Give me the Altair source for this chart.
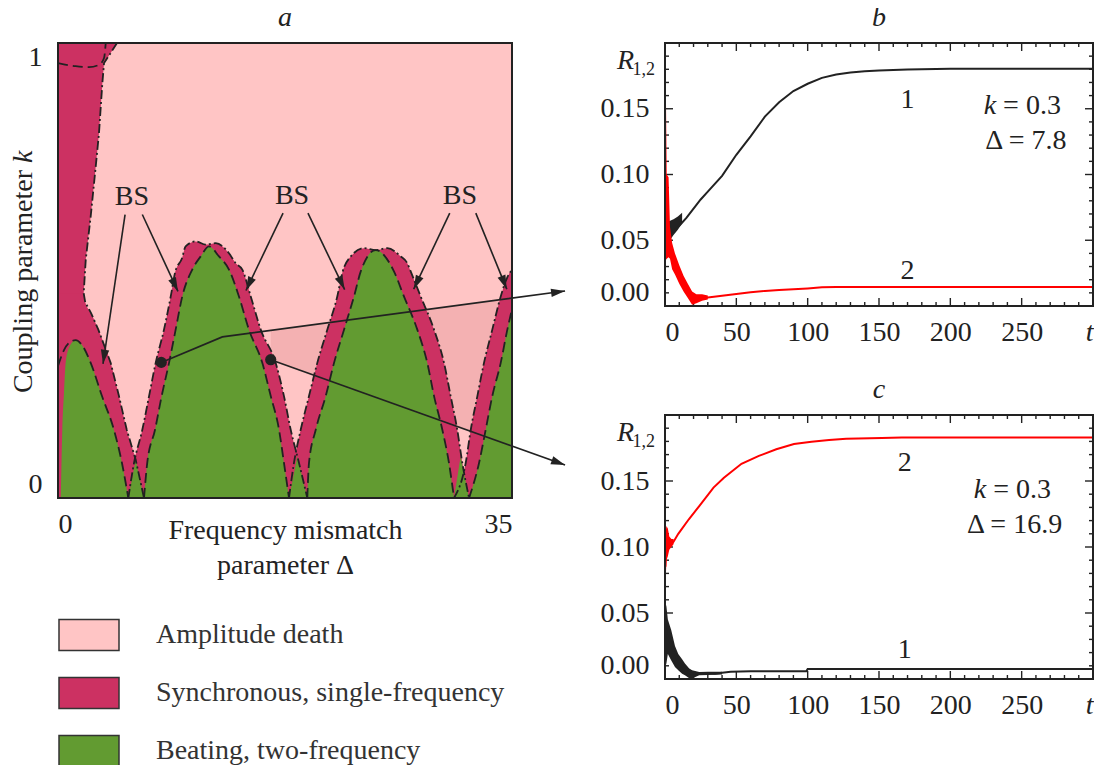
import math
import altair as alt
import pandas as pd

FONT = "Liberation Serif"
INK = "#222222"
GREY = "#333333"
PINK = "#FFC5C5"
WEDGE = "#F4B1B2"
CRIMSON = "#CC3162"
GREEN = "#629B31"
RED = "#FF0000"
FS = 28

# ======================= panel a : regime diagram =======================
A_W, A_H = 454, 455
A_DMAX = 35.0

regimes = ["Amplitude death", "Synchronous, single-frequency", "Beating, two-frequency"]
regime_colors = [PINK, CRIMSON, GREEN]

# synchronous strip along the left edge: right boundary Delta(k), from top to bottom
left_k = [1.0, 0.978, 0.956, 0.912, 0.802, 0.729, 0.619, 0.524, 0.45, 0.43, 0.407, 0.370, 0.297, 0.224, 0.150, 0.084, 0.0]
left_d = [4.55, 4.06, 3.55, 3.42, 3.16, 2.91, 2.52, 2.14, 1.98, 2.10, 2.54, 3.11, 4.06, 4.70, 5.30, 5.99, 6.63]

# dashed curve in the upper-left corner
topleft_d = [0.0, 1.36, 2.39, 3.16, 3.55, 3.68]
topleft_k = [0.956, 0.949, 0.947, 0.952, 0.967, 1.0]

# beating tongue A (left)
lobeA_in_d = [0.21, 0.27, 0.33, 0.46, 0.59, 0.85, 1.36, 1.85, 2.52, 3.39, 4.32, 4.93, 5.42]
lobeA_in_k = [0.0, 0.077, 0.150, 0.231, 0.297, 0.330, 0.347, 0.336, 0.297, 0.224, 0.149, 0.077, 0.0]
lobeA_top_d = [0.0, 0.46, 0.85, 1.36, 1.85, 2.52, 3.39, 4.32, 4.93, 5.42]
lobeA_top_k = [0.290, 0.325, 0.341, 0.347, 0.336, 0.297, 0.224, 0.149, 0.077, 0.0]

# tongue B
lobeB_out_d = [5.42, 5.86, 6.50, 7.02, 7.53, 8.17, 8.69, 9.02, 9.56, 9.84, 10.62, 11.39, 12.16, 13.18, 13.70, 14.21, 14.86, 15.63, 16.78, 17.42, 17.94, 18.58, 19.22]
lobeB_out_k = [0.0, 0.077, 0.150, 0.224, 0.297, 0.370, 0.443, 0.495, 0.527, 0.553, 0.564, 0.557, 0.560, 0.538, 0.516, 0.502, 0.443, 0.370, 0.297, 0.224, 0.150, 0.077, 0.0]
lobeB_in_d = [6.63, 6.88, 7.48, 7.99, 8.56, 9.07, 9.58, 10.35, 11.00, 11.64, 12.41, 13.18, 13.95, 14.72, 15.75, 16.40, 17.04, 17.42, 17.81]
lobeB_in_k = [0.0, 0.077, 0.150, 0.224, 0.297, 0.370, 0.443, 0.502, 0.531, 0.553, 0.531, 0.502, 0.443, 0.370, 0.297, 0.224, 0.150, 0.077, 0.0]

# tongue C
lobeC_out_d = [17.81, 18.19, 18.71, 19.35, 19.99, 20.76, 21.53, 21.92, 22.57, 23.59, 24.49, 25.39, 26.42, 26.93, 27.19, 27.96, 28.99, 29.76, 30.27, 30.78, 31.17, 31.69]
lobeC_out_k = [0.0, 0.077, 0.150, 0.224, 0.297, 0.370, 0.443, 0.495, 0.531, 0.549, 0.545, 0.549, 0.531, 0.516, 0.498, 0.443, 0.370, 0.297, 0.224, 0.150, 0.077, 0.0]
lobeC_in_d = [19.22, 19.35, 19.87, 20.64, 21.28, 22.05, 22.82, 23.34, 24.49, 25.90, 26.67, 27.70, 28.47, 28.99, 29.63, 30.14, 30.53]
lobeC_in_k = [0.0, 0.077, 0.150, 0.224, 0.297, 0.370, 0.443, 0.498, 0.545, 0.498, 0.443, 0.370, 0.297, 0.224, 0.150, 0.077, 0.0]

# tongue D (cut by the right edge)
lobeD_out_d = [30.53, 31.43, 31.82, 32.33, 32.84, 33.48, 34.13, 34.62, 35.0]
lobeD_out_k = [0.0, 0.077, 0.150, 0.224, 0.297, 0.370, 0.443, 0.484, 0.502]
lobeD_in_d = [31.69, 32.46, 32.97, 33.48, 34.13, 34.64, 35.0]
lobeD_in_k = [0.0, 0.077, 0.150, 0.224, 0.297, 0.370, 0.415]

# beating wedges where neighbouring synchronous bands cross
triAB_d, triAB_k = [5.42, 5.99, 6.63], [0.0, 0.084, 0.0]
triBC_d, triBC_k = [17.81, 18.45, 19.22], [0.0, 0.092, 0.0]
triCD_d, triCD_k = [30.53, 31.04, 31.69], [0.0, 0.092, 0.0]

# darker wedge between the two pointer arrows
wedge_d = [16.40, 35.0]
wedge_hi = [0.368, 0.439]
wedge_lo = [0.304, 0.114]

# "BS" labels and their arrows
bs_text = ["BS", "BS", "BS"]
bs_text_d = [5.70, 18.04, 30.99]
bs_text_k = [0.662, 0.663, 0.663]
bs_start_d = [5.17, 6.50, 17.35, 19.27, 30.20, 32.21]
bs_start_k = [0.623, 0.623, 0.626, 0.626, 0.626, 0.626]
bs_tip_d = [3.47, 9.25, 14.49, 22.10, 27.42, 34.60]
bs_tip_k = [0.295, 0.454, 0.456, 0.458, 0.459, 0.459]

# pointers from the two marked points to panels b and c
link_b_d = [7.96, 12.67, 39.09]
link_b_k = [0.298, 0.354, 0.455]
link_c_d = [16.40, 39.09]
link_c_k = [0.304, 0.0725]

# y title of panel a
ytitle_d = -2.62
ytitle_k_main = 0.721
ytitle_k_var = 0.736

PX_D = A_W / A_DMAX
PX_K = A_H / 1.0


def head_angle(d0, k0, d1, k1):
    return math.degrees(math.atan2((d1 - d0) * PX_D, (k1 - k0) * PX_K)) % 360


def shape_df(name, regime, d, k, style="dash"):
    n = len(d)
    return pd.DataFrame({"shape": [name] * n, "regime": [regime] * n, "d": d, "k": k,
                         "i": list(range(n)), "style": [style] * n})


xsA = alt.Scale(domain=[0, A_DMAX], nice=False, zero=False)
ysA = alt.Scale(domain=[0, 1], nice=False, zero=False)
axA_x = alt.Axis(values=[0, 35], format="d", labelFlush=True, labelPadding=12, ticks=False, domain=False,
                 grid=False, labelFont=FONT, labelFontSize=FS, labelColor=INK, labelOverlap=False,
                 title=["Frequency mismatch", "parameter Δ"], titleFont=FONT, titleFontSize=FS,
                 titleFontWeight="normal", titleColor=INK, titlePadding=-22, titleLineHeight=35)
axA_y = alt.Axis(values=[0, 1], format="d", labelFlush=True, labelPadding=16, ticks=False, domain=False,
                 grid=False, labelFont=FONT, labelFontSize=FS, labelColor=INK, labelOverlap=False, title=None)


def XA(field=None, datum=None, **kw):
    if datum is not None:
        return alt.X(datum=datum, scale=xsA, axis=axA_x, **kw)
    return alt.X(field, type="quantitative", scale=xsA, axis=axA_x, **kw)


def YA(field=None, datum=None, **kw):
    if datum is not None:
        return alt.Y(datum=datum, scale=ysA, axis=axA_y, **kw)
    return alt.Y(field, type="quantitative", scale=ysA, axis=axA_y, **kw)


COLOR = alt.Color("regime:N", scale=alt.Scale(domain=regimes, range=regime_colors),
                  legend=alt.Legend(title=None, orient="none", legendX=0, legendY=561, direction="vertical",
                                    symbolType="M-1,-0.52H1V0.52H-1Z", symbolSize=3600,
                                    symbolStrokeColor=GREY, symbolStrokeWidth=1.5, symbolOpacity=1,
                                    labelFont=FONT, labelFontSize=FS, labelColor=GREY, labelOffset=36,
                                    labelLimit=1000, rowPadding=8))

# split the left strip boundary at its narrowest point into an upper and a lower branch
imin = left_d.index(min(left_d))
up_d = [0.0, left_d[imin] - 0.08] + left_d[imin::-1]
up_k = [left_k[imin] - 0.05, left_k[imin] - 0.05] + left_k[imin::-1]
lo_d = [0.0] + left_d[imin:]
lo_k = [left_k[imin]] + left_k[imin:]

wedge_df = pd.DataFrame({"d": wedge_d, "hi": wedge_hi, "lo": wedge_lo})
left_line_df = shape_df("L", regimes[1], left_d, left_k, "dashdot")
left_up_df = shape_df("Lu", regimes[1], up_d, up_k)
left_lo_df = shape_df("Ll", regimes[1], lo_d, lo_k)
crimson_df = pd.concat([left_lo_df,
                        shape_df("B", regimes[1], lobeB_out_d, lobeB_out_k, "dashdot"),
                        shape_df("C", regimes[1], lobeC_out_d, lobeC_out_k, "dashdot"),
                        shape_df("D", regimes[1], lobeD_out_d, lobeD_out_k, "dashdot")])
green_df = pd.concat([shape_df("Ai", regimes[2], lobeA_in_d, lobeA_in_k),
                      shape_df("Bi", regimes[2], lobeB_in_d, lobeB_in_k),
                      shape_df("Ci", regimes[2], lobeC_in_d, lobeC_in_k),
                      shape_df("Di", regimes[2], lobeD_in_d, lobeD_in_k)])
tri_df = pd.concat([shape_df("t1", regimes[2], triAB_d, triAB_k),
                    shape_df("t2", regimes[2], triBC_d, triBC_k),
                    shape_df("t3", regimes[2], triCD_d, triCD_k)])
curve_df = pd.concat([shape_df("Atop", "", lobeA_top_d, lobeA_top_k, "dash"),
                      shape_df("TL", "", topleft_d, topleft_k, "dash"),
                      shape_df("Bo", "", lobeB_out_d, lobeB_out_k, "dashdot"),
                      shape_df("Bi", "", lobeB_in_d, lobeB_in_k, "dash"),
                      shape_df("Co", "", lobeC_out_d, lobeC_out_k, "dashdot"),
                      shape_df("Ci", "", lobeC_in_d, lobeC_in_k, "dash"),
                      shape_df("Do", "", lobeD_out_d, lobeD_out_k, "dashdot"),
                      shape_df("Di", "", lobeD_in_d, lobeD_in_k, "dash")])
DASH = alt.StrokeDash("style:N", scale=alt.Scale(domain=["dash", "dashdot"], range=[[10, 5], [9, 3, 2, 3]]),
                      legend=None)

bs_rows = []
for j in range(len(bs_start_d)):
    bs_rows.append({"a": j, "i": 0, "d": bs_start_d[j], "k": bs_start_k[j]})
    bs_rows.append({"a": j, "i": 1, "d": bs_tip_d[j], "k": bs_tip_k[j]})
bs_line_df = pd.DataFrame(bs_rows)
heads = [{"d": bs_tip_d[j], "k": bs_tip_k[j],
          "ang": head_angle(bs_start_d[j], bs_start_k[j], bs_tip_d[j], bs_tip_k[j])}
         for j in range(len(bs_tip_d))]
heads.append({"d": link_b_d[-1], "k": link_b_k[-1],
              "ang": head_angle(link_b_d[-2], link_b_k[-2], link_b_d[-1], link_b_k[-1])})
heads.append({"d": link_c_d[-1], "k": link_c_k[-1],
              "ang": head_angle(link_c_d[-2], link_c_k[-2], link_c_d[-1], link_c_k[-1])})
heads_df = pd.DataFrame(heads)
link_df = pd.concat([pd.DataFrame({"a": "b", "i": range(len(link_b_d)), "d": link_b_d, "k": link_b_k}),
                     pd.DataFrame({"a": "c", "i": range(len(link_c_d)), "d": link_c_d, "k": link_c_k})])
dots_df = pd.DataFrame({"d": [link_b_d[0], link_c_d[0]], "k": [link_b_k[0], link_c_k[0]]})
bs_df = pd.DataFrame({"s": bs_text, "d": bs_text_d, "k": bs_text_k})
ytitle_df = pd.DataFrame({"s": ["Coupling parameter"], "d": [ytitle_d], "k": [ytitle_k_main]})
ytitle_var_df = pd.DataFrame({"s": ["k"], "d": [ytitle_d], "k": [ytitle_k_var]})

HEAD = "M0,0L0.6,2L-0.6,2Z"

a_layers = [
    alt.Chart(wedge_df).mark_area(color=WEDGE, clip=True).encode(x=XA("d"), y=YA("hi"), y2=alt.Y2("lo")),
    alt.Chart(left_up_df).mark_area(opacity=1, clip=True).encode(
        x=XA("d"), y=YA("k", stack=None), y2=alt.Y2(datum=1), color=COLOR),
    alt.Chart(crimson_df).mark_area(interpolate="monotone", opacity=1, clip=True).encode(
        x=XA("d"), y=YA("k", stack=None), y2=alt.Y2(datum=0), color=COLOR, detail="shape:N"),
    alt.Chart(green_df).mark_area(interpolate="monotone", opacity=1, clip=True).encode(
        x=XA("d"), y=YA("k", stack=None), y2=alt.Y2(datum=0), color=COLOR, detail="shape:N"),
    alt.Chart(tri_df).mark_area(opacity=1, clip=True).encode(
        x=XA("d"), y=YA("k", stack=None), y2=alt.Y2(datum=0), color=COLOR, detail="shape:N"),
    alt.Chart(curve_df).mark_line(color=INK, strokeWidth=1.8, interpolate="monotone", clip=True).encode(
        x=XA("d"), y=YA("k"), detail="shape:N", order="i:Q", strokeDash=DASH),
    alt.Chart(left_line_df).mark_line(color=INK, strokeWidth=1.8, clip=True).encode(
        x=XA("d"), y=YA("k"), order="i:Q", strokeDash=DASH),
    alt.Chart(bs_line_df).mark_line(color=INK, strokeWidth=1.6).encode(
        x=XA("d"), y=YA("k"), detail="a:N", order="i:Q"),
    alt.Chart(link_df).mark_line(color=INK, strokeWidth=1.7, clip=False).encode(
        x=XA("d"), y=YA("k"), detail="a:N", order="i:Q"),
    alt.Chart(dots_df).mark_circle(size=125, color=INK, opacity=1).encode(x=XA("d"), y=YA("k")),
    alt.Chart(heads_df).mark_point(shape=HEAD, size=196, filled=True, color=INK, opacity=1,
                                   strokeWidth=0, clip=False).encode(
        x=XA("d"), y=YA("k"), angle=alt.Angle("ang:Q", scale=None)),
    alt.Chart(bs_df).mark_text(font=FONT, fontSize=FS, color=INK, baseline="middle").encode(
        x=XA("d"), y=YA("k"), text="s:N"),
    alt.Chart(ytitle_df).mark_text(font=FONT, fontSize=FS, color=INK, angle=270, align="right",
                                   baseline="middle", clip=False).encode(x=XA("d"), y=YA("k"), text="s:N"),
    alt.Chart(ytitle_var_df).mark_text(font=FONT, fontSize=FS, color=INK, angle=270, align="left",
                                       fontStyle="italic", baseline="middle", clip=False).encode(
        x=XA("d"), y=YA("k"), text="s:N"),
    alt.Chart(pd.DataFrame({"f": [0]})).mark_rect(fillOpacity=0, stroke=INK, strokeWidth=2).encode(
        x=alt.value(0), x2=alt.value("width"), y=alt.value(0), y2=alt.value("height")),
]

panel_a = alt.layer(*a_layers).properties(
    width=A_W, height=A_H,
    title=alt.TitleParams("a", font=FONT, fontSize=FS, fontStyle="italic", fontWeight="normal",
                          color=INK, offset=10, anchor="middle"),
    view=alt.ViewBackground(fill=PINK, stroke=None))

# ======================= panels b, c : time series =======================
t_labels = [0, 50, 100, 150, 200, 250, 300]
r_labels = [0.0, 0.05, 0.10, 0.15]
t_major = [50, 100, 150, 200, 250]
t_minor = [v for v in range(10, 300, 10) if v % 50]
r_major = [0.05, 0.10, 0.15]
r_minor = [round(v * 0.01, 2) for v in range(1, 20) if v % 5]

# panel b : k = 0.3, Delta = 7.8
b_black_t = [1, 3, 6, 10, 15, 20, 25, 30, 40, 50, 60, 70, 80, 90, 100, 110, 120, 130, 140, 150, 170, 200, 300]
b_black_r = [0.056, 0.055, 0.057, 0.061, 0.067, 0.074, 0.081, 0.087, 0.099, 0.115, 0.129, 0.144, 0.155, 0.1635,
             0.169, 0.1735, 0.176, 0.1775, 0.1785, 0.179, 0.1798, 0.1805, 0.1805]
b_black_env_t = [0.5, 2, 4, 6, 9, 12]
b_black_env_lo = [0.049, 0.050, 0.051, 0.054, 0.058, 0.063]
b_black_env_hi = [0.063, 0.064, 0.065, 0.066, 0.068, 0.071]
b_red_t = [0, 1, 2, 3.5, 5, 7, 10, 13, 16, 19, 22, 26, 30, 40, 50, 60, 70, 80, 90, 100, 110, 120, 300]
b_red_r = [0.10, 0.065, 0.06, 0.045, 0.038, 0.032, 0.024, 0.017, 0.011, 0.006, 0.005, 0.006, 0.0065, 0.0078,
           0.0092, 0.0105, 0.0115, 0.0122, 0.0128, 0.0134, 0.0142, 0.0145, 0.0145]
b_red_env_t = [0, 0.6, 1.2, 2.5, 3.5, 5, 7, 10, 13, 16, 19, 22, 26, 30]
b_red_env_lo = [0.035, 0.035, 0.036, 0.037, 0.036, 0.028, 0.024, 0.017, 0.011, 0.006, 0.001, 0.002, 0.004, 0.005]
b_red_env_hi = [0.172, 0.165, 0.100, 0.098, 0.060, 0.048, 0.040, 0.031, 0.023, 0.017, 0.011, 0.009, 0.009, 0.008]
b_curve_lbl = ["1", "2"]
b_curve_lbl_t = [170, 170]
b_curve_lbl_r = [0.157, 0.0266]
b_k_text, b_k_t, b_k_r = "= 0.3", 237, 0.152
b_d_text, b_d_t, b_d_r = "Δ = 7.8", 253, 0.1255

# panel c : k = 0.3, Delta = 16.9
c_red_t = [0.3, 1, 2, 3, 4.4, 6, 9.3, 16.7, 24, 34, 41.3, 53.6, 65.8, 78, 90.4, 102.7, 115, 127, 152, 166, 300]
c_red_r = [0.085, 0.103, 0.104, 0.103, 0.102, 0.104, 0.110, 0.121, 0.131, 0.145, 0.1525, 0.163, 0.169, 0.174,
           0.178, 0.1797, 0.181, 0.182, 0.1825, 0.183, 0.183]
c_red_env_t = [0, 0.5, 1, 2, 3, 4.5, 6]
c_red_env_lo = [0.065, 0.075, 0.090, 0.093, 0.098, 0.100, 0.102]
c_red_env_hi = [0.090, 0.112, 0.116, 0.114, 0.108, 0.106, 0.106]
c_black_t = [0.3, 1, 2, 4.4, 9.3, 14, 19, 24, 29, 35, 40, 46, 60, 80, 99, 100, 150, 300]
c_black_r = [0.040, 0.035, 0.032, 0.026, 0.013, 0.007, 0.0035, 0.004, 0.0045, 0.004, 0.0048, 0.0055, 0.0058,
             0.0058, 0.0058, 0.0075, 0.0075, 0.0075]
c_black_env_t = [0, 0.5, 1, 2, 4.4, 7, 9.3, 12, 14, 17, 19, 24, 30, 40]
c_black_env_lo = [0.004, 0.010, 0.012, 0.019, 0.014, 0.009, 0.0066, 0.004, 0.0028, 0.0005, 0.0003, 0.0028, 0.003,
                  0.0035]
c_black_env_hi = [0.057, 0.057, 0.055, 0.045, 0.037, 0.025, 0.019, 0.015, 0.0117, 0.008, 0.0066, 0.0053, 0.0055,
                  0.0055]
c_curve_lbl = ["2", "1"]
c_curve_lbl_t = [168, 168]
c_curve_lbl_r = [0.1636, 0.0222]
c_k_text, c_k_t, c_k_r = "= 0.3", 230, 0.1434
c_d_text, c_d_t, c_d_r = "Δ = 16.9", 245, 0.1169

ylab_parts = ["R", "1,2"]


def ts_panel(title, w, h, black, red, black_env, red_env, curve_lbl, k_ann, d_ann):
    xs = alt.Scale(domain=[0, 300], nice=False, zero=False)
    ys = alt.Scale(domain=[0, 0.2], nice=False, zero=False)
    ax_x = alt.Axis(values=t_labels, labelExpr="datum.value == 300 ? 't' : datum.label",
                    labelFontStyle={"condition": {"test": "datum.value == 300", "value": "italic"},
                                    "value": "normal"},
                    labelFlush=True, labelPadding=12, ticks=False, domain=False, grid=False, title=None,
                    labelFont=FONT, labelFontSize=FS, labelColor=INK, labelOverlap=False)
    ax_y = alt.Axis(values=r_labels, format=".2f", labelFlush=True, labelPadding=16, ticks=False, domain=False,
                    grid=False, title=None, labelFont=FONT, labelFontSize=FS, labelColor=INK, labelOverlap=False)

    def X(f=None, datum=None):
        if datum is not None:
            return alt.X(datum=datum, scale=xs, axis=ax_x)
        return alt.X(f, type="quantitative", scale=xs, axis=ax_x)

    def Y(f=None, datum=None):
        if datum is not None:
            return alt.Y(datum=datum, scale=ys, axis=ax_y)
        return alt.Y(f, type="quantitative", scale=ys, axis=ax_y)

    layers = []
    for vals, L in [(t_major, 8), (t_minor, 4)]:
        c = alt.Chart(pd.DataFrame({"v": vals}))
        layers.append(c.mark_rule(color=INK, strokeWidth=1.4, y2Offset=-L).encode(
            x=X("v"), y=Y(datum=0), y2=alt.Y2(datum=0)))
        layers.append(c.mark_rule(color=INK, strokeWidth=1.4, y2Offset=L).encode(
            x=X("v"), y=Y(datum=0.2), y2=alt.Y2(datum=0.2)))
    for vals, L in [(r_major, 8), (r_minor, 4)]:
        c = alt.Chart(pd.DataFrame({"v": vals}))
        layers.append(c.mark_rule(color=INK, strokeWidth=1.4, x2Offset=L).encode(
            y=Y("v"), x=X(datum=0), x2=alt.X2(datum=0)))
        layers.append(c.mark_rule(color=INK, strokeWidth=1.4, x2Offset=-L).encode(
            y=Y("v"), x=X(datum=300), x2=alt.X2(datum=300)))

    series = [(black_env, black, INK), (red_env, red, RED)]
    for env, ln, col in series:
        layers.append(alt.Chart(env).mark_area(color=col, opacity=1, clip=True).encode(
            x=X("t"), y=Y("lo"), y2=alt.Y2("hi")))
        layers.append(alt.Chart(ln).mark_line(color=col, strokeWidth=2.0, clip=True).encode(
            x=X("t"), y=Y("r")))

    layers.append(alt.Chart(curve_lbl).mark_text(font=FONT, fontSize=FS, color=INK, baseline="middle").encode(
        x=X("t"), y=Y("r"), text="s:N"))
    kdf = pd.DataFrame({"s": [k_ann[0]], "t": [k_ann[1]], "r": [k_ann[2]]})
    layers.append(alt.Chart(kdf).mark_text(font=FONT, fontSize=FS, color=INK, baseline="middle",
                                           align="left").encode(x=X("t"), y=Y("r"), text="s:N"))
    kvar = pd.DataFrame({"s": ["k"], "t": [k_ann[1]], "r": [k_ann[2]]})
    layers.append(alt.Chart(kvar).mark_text(font=FONT, fontSize=FS, color=INK, baseline="middle",
                                            align="right", fontStyle="italic", dx=-7).encode(
        x=X("t"), y=Y("r"), text="s:N"))
    ddf = pd.DataFrame({"s": [d_ann[0]], "t": [d_ann[1]], "r": [d_ann[2]]})
    layers.append(alt.Chart(ddf).mark_text(font=FONT, fontSize=FS, color=INK, baseline="middle").encode(
        x=X("t"), y=Y("r"), text="s:N"))
    layers.append(alt.Chart(pd.DataFrame({"s": [ylab_parts[0]]})).mark_text(
        font=FONT, fontSize=FS, fontStyle="italic", color=INK, align="right", baseline="alphabetic",
        dx=-31, dy=26).encode(x=X(datum=0), y=Y(datum=0.2), text="s:N"))
    layers.append(alt.Chart(pd.DataFrame({"s": [ylab_parts[1]]})).mark_text(
        font=FONT, fontSize=18, color=INK, align="right", baseline="alphabetic",
        dx=-10, dy=32).encode(x=X(datum=0), y=Y(datum=0.2), text="s:N"))
    layers.append(alt.Chart(pd.DataFrame({"f": [0]})).mark_rect(fillOpacity=0, stroke=INK, strokeWidth=2).encode(
        x=alt.value(0), x2=alt.value("width"), y=alt.value(0), y2=alt.value("height")))

    return alt.layer(*layers).properties(
        width=w, height=h,
        title=alt.TitleParams(title, font=FONT, fontSize=FS, fontStyle="italic", fontWeight="normal",
                              color=INK, offset=10, anchor="middle"),
        view=alt.ViewBackground(fill="white", stroke=None))


def tdf(t, r):
    return pd.DataFrame({"t": t, "r": r})


def edf(t, lo, hi):
    return pd.DataFrame({"t": t, "lo": lo, "hi": hi})


panel_b = ts_panel("b", 428, 263, tdf(b_black_t, b_black_r), tdf(b_red_t, b_red_r),
                   edf(b_black_env_t, b_black_env_lo, b_black_env_hi),
                   edf(b_red_env_t, b_red_env_lo, b_red_env_hi),
                   pd.DataFrame({"s": b_curve_lbl, "t": b_curve_lbl_t, "r": b_curve_lbl_r}),
                   (b_k_text, b_k_t, b_k_r), (b_d_text, b_d_t, b_d_r))
panel_c = ts_panel("c", 428, 264, tdf(c_black_t, c_black_r), tdf(c_red_t, c_red_r),
                   edf(c_black_env_t, c_black_env_lo, c_black_env_hi),
                   edf(c_red_env_t, c_red_env_lo, c_red_env_hi),
                   pd.DataFrame({"s": c_curve_lbl, "t": c_curve_lbl_t, "r": c_curve_lbl_r}),
                   (c_k_text, c_k_t, c_k_r), (c_d_text, c_d_t, c_d_r))

right_col = alt.vconcat(panel_b, panel_c, spacing=109, bounds="flush")

chart = alt.hconcat(panel_a, right_col, spacing=31).properties(
    padding={"left": 2, "top": -4, "right": 0, "bottom": 0},
    background="white",
).configure(font=FONT).configure_view(stroke=None)

chart.save("out.html", embed_options={"renderer": "svg", "actions": False})
